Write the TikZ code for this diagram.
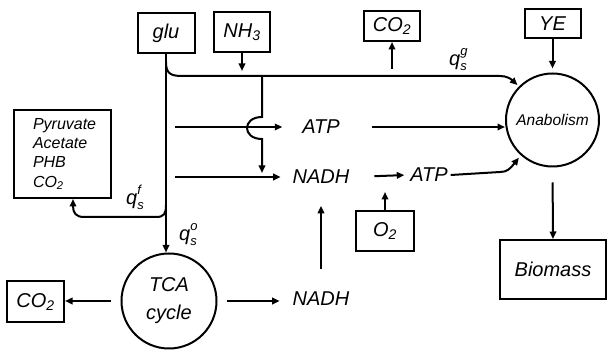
\documentclass[tikz,border=0pt]{standalone}
\usepackage{fontspec}
\setmainfont{Liberation Sans}
\usetikzlibrary{arrows.meta}
\newcommand\lab{\fontsize{20}{22}\selectfont\itshape}
\newcommand\qlab[1]{q\makebox[0pt][l]{\raisebox{10pt}{\fontsize{13}{13}\selectfont #1}}\raisebox{-5pt}{\fontsize{13}{13}\selectfont s}}
\begin{document}
\begin{tikzpicture}[x=1pt,y=-1pt,
  line width=2pt,
  >={Triangle[length=7.5pt,width=6.5pt]},
  box/.style={draw,inner sep=0pt,font=\lab},
  lab/.style={inner sep=2pt,font=\lab},
  ring/.style={draw,circle,inner sep=0pt}]
\useasboundingbox (0,0) rectangle (608,352);
% boxes
\node[box,minimum width=57pt,minimum height=40pt] (glu) at (166,33) {glu};
\node[box,minimum width=56pt,minimum height=40pt] (nh3) at (242,32) {NH\textsubscript{3}};
\node[box,minimum width=56pt,minimum height=30pt] (co2t) at (392,26) {CO\textsubscript{2}};
\node[box,minimum width=56pt,minimum height=29pt] (ye) at (552.5,23.5) {YE};
\node[ring,minimum size=93pt,font=\fontsize{15.5}{17}\selectfont\itshape] (anab) at (552.5,120) {Anabolism};
\node[box,minimum width=106pt,minimum height=59pt] (bio) at (553,269.5) {Biomass};
\node[box,minimum width=97pt,minimum height=88pt] (pyr) at (62.5,154) {};
\node[anchor=west,align=left,inner sep=0pt,font=\fontsize{16}{19.3}\selectfont\itshape] (pyrt) at (32,154) {Pyruvate\\Acetate\\PHB\\CO\textsubscript{2}};
\node[box,minimum width=58pt,minimum height=40pt] (o2) at (385,231) {O\textsubscript{2}};
\node[box,minimum width=57pt,minimum height=41pt] (co2b) at (35.5,302) {CO\textsubscript{2}};
\node[ring,minimum size=95pt,align=center,font=\fontsize{20}{28}\selectfont\itshape] (tca) at (169,301) {TCA\\cycle};
% text nodes
\node[lab] (atpA) at (321,127) {ATP};
\node[lab] (nadhA) at (321,177) {NADH};
\node[lab] (atpB) at (429,175) {ATP};
\node[lab] (nadhB) at (321,299) {NADH};
\node[lab] (qg) at (458,60) {\qlab{g}};
\node[lab] (qf) at (135,197) {\qlab{f}};
\node[lab] (qo) at (188,235) {\qlab{o}};
% connectors
\draw[->] (glu.south) -- (tca.north -| glu.south);
\draw[->,shorten >=2pt] (166,62) .. controls (166,73) and (170,76) .. (182,76) -- (500,76) .. controls (507,76) and (511,79) .. (anab.135);
\draw[->] (262,76) -- (262,117) .. controls (242,117) and (242,139) .. (262,139) -- (262,173);
\draw[->,shorten <=9pt,shorten >=17pt] (glu.south |- atpA.west) -- (atpA.west);
\draw[->,shorten <=9pt,shorten >=9pt] (glu.south |- nadhA.west) -- (nadhA.west);
\draw[->] (nh3.south) -- ++(0,18);
\draw[<-] (co2t.south) -- ++(0,27);
\draw[->,shorten >=4pt] (ye.south) -- (anab.north);
\draw[->,shorten <=29pt] (atpA.east) -- (anab.west |- atpA.east);
\draw[->,shorten <=22pt,shorten >=3pt] (nadhA.east) -- (atpB.west);
\draw[->,shorten >=3pt] (atpB.east) -- (500,172) .. controls (507,172) and (510,169) .. (anab.-132);
\draw[->] (o2.north) -- ++(0,-18);
\draw[->,shorten <=20pt,shorten >=19pt] (nadhB.north) -- (nadhA.south);
\draw[->,shorten <=15pt] (anab.south) -- (bio.north);
\draw[->,shorten <=10pt] (tca.west) -- (tca.west -| co2b.east);
\draw[->,shorten <=9pt,shorten >=10pt] (tca.east) -- (tca.east -| nadhB.west);
\draw[->] (166,205) .. controls (166,214) and (164,217) .. (156,217) -- (84,217) .. controls (76,217) and (73,213) .. (pyr.south -| 73,0);
\end{tikzpicture}
\end{document}
